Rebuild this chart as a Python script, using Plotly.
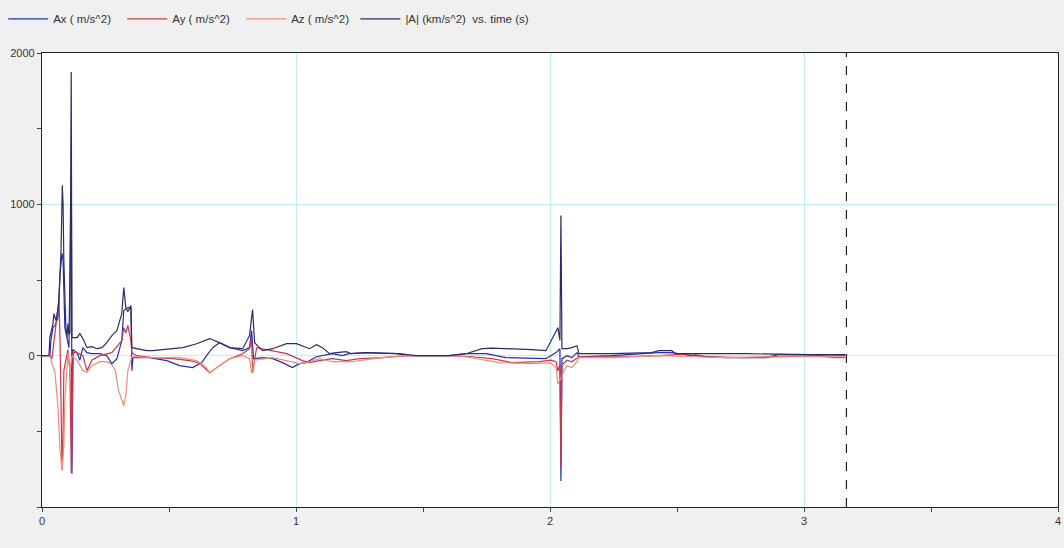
import plotly.graph_objects as go

# ---------------- data ----------------
ax_t = [0, 0.031, 0.035, 0.043, 0.051, 0.063, 0.071, 0.079, 0.083, 0.090, 0.098, 0.106,
        0.113, 0.116, 0.118, 0.122, 0.138, 0.149, 0.161, 0.177, 0.196, 0.228, 0.255, 0.275,
        0.295, 0.314, 0.322, 0.338, 0.350, 0.354, 0.358, 0.424, 0.491, 0.542, 0.593, 0.629,
        0.648, 0.672, 0.699, 0.739, 0.790, 0.817, 0.825, 0.833, 0.868, 0.908, 0.947, 0.986,
        1.014, 1.040, 1.081, 1.143, 1.183, 1.210, 1.277, 1.395, 1.446, 1.603, 1.670, 1.749,
        1.827, 1.929, 1.984, 2.024, 2.039, 2.043, 2.047, 2.067, 2.086, 2.106, 2.114, 2.244,
        2.428, 2.479, 2.558, 2.692, 2.849, 2.900, 3.163]
ax_v = [0, 0, 100, 185, 200, 250, 543, 676, 629, 185, 119, 53,
        980, 900, -781, 40, 20, -30, 53, 20, 13, 13, 0, -53,
        -20, 99, 298, 318, 318, -99, -13, -13, -33, -66, -79, -46,
        0, 53, 86, 53, 33, 53, 166, -20, -13, -20, -46, -79,
        -53, -46, -7, 13, 0, 13, 20, 13, 0, 0, 13, 13,
        -13, -20, -20, 20, 46, -828, -20, 0, -13, 20, -7, 0,
        20, 20, 0, -13, -13, 7, 7]

ay_t = [0, 0.031, 0.039, 0.047, 0.055, 0.063, 0.067, 0.071, 0.075, 0.079, 0.083, 0.086,
        0.094, 0.102, 0.110, 0.115, 0.118, 0.122, 0.138, 0.161, 0.177, 0.196, 0.228, 0.275,
        0.314, 0.322, 0.330, 0.338, 0.350, 0.354, 0.373, 0.436, 0.515, 0.582, 0.621, 0.660,
        0.688, 0.739, 0.790, 0.817, 0.825, 0.829, 0.845, 0.908, 0.963, 1.026, 1.053, 1.092,
        1.143, 1.198, 1.250, 1.340, 1.446, 1.603, 1.694, 1.772, 1.851, 1.957, 2.003, 2.024,
        2.031, 2.039, 2.043, 2.047, 2.067, 2.086, 2.106, 2.114, 2.299, 2.428, 2.558, 2.613,
        2.770, 3.057, 3.120, 3.163]
ay_v = [0, 0, -20, 100, 185, 300, 370, 100, -500, -748, -500, -100,
        -30, 40, -100, -775, -600, 20, 20, 0, -99, -30, 0, 20,
        100, 185, 150, 200, 100, 20, 0, -13, -20, -33, -50, -113,
        -79, -20, 13, 46, 113, -113, 53, 33, 13, -33, -46, -33,
        -20, -33, -20, -13, 0, 0, -7, -20, -46, -40, -30, -40,
        -100, -60, -742, -60, -30, -40, -13, -7, -7, 0, 13, -7,
        -13, 0, -13, -13]

az_t = [0, 0.031, 0.039, 0.051, 0.063, 0.071, 0.079, 0.086, 0.090, 0.098, 0.102, 0.110,
        0.118, 0.138, 0.161, 0.177, 0.196, 0.228, 0.255, 0.275, 0.289, 0.301, 0.322, 0.330,
        0.338, 0.354, 0.424, 0.542, 0.609, 0.648, 0.660, 0.688, 0.739, 0.790, 0.817, 0.825,
        0.837, 0.908, 0.986, 1.014, 1.053, 1.092, 1.143, 1.218, 1.277, 1.356, 1.446, 1.603,
        1.670, 1.749, 1.800, 1.929, 2.000, 2.024, 2.031, 2.043, 2.055, 2.067, 2.086, 2.106,
        2.114, 2.244, 2.428, 2.558, 2.692, 2.849, 3.163]
az_v = [0, 0, -50, -110, -340, -629, -762, -600, -300, -40, 20, -99,
        0, -30, -99, -110, -66, -40, -40, -60, -100, -230, -331, -260,
        -99, -7, -13, -13, -33, -79, -113, -79, -20, 0, -20, -113,
        -30, -13, -46, -53, -40, -20, -40, -40, -26, -10, 0, 0,
        -7, -33, -46, -53, -46, -79, -185, -150, -99, -66, -79, -40,
        -13, -13, 0, -7, -13, -7, -7]

amag_t = [0, 0.0275, 0.031, 0.043, 0.047, 0.055, 0.063, 0.067, 0.075, 0.080, 0.083, 0.086,
          0.094, 0.098, 0.102, 0.106, 0.110, 0.115, 0.118, 0.138, 0.149, 0.161, 0.177, 0.196,
          0.216, 0.236, 0.255, 0.275, 0.295, 0.314, 0.322, 0.330, 0.338, 0.350, 0.354, 0.373,
          0.413, 0.436, 0.475, 0.554, 0.609, 0.660, 0.699, 0.739, 0.790, 0.817, 0.829, 0.837,
          0.868, 0.908, 0.963, 1.002, 1.053, 1.081, 1.104, 1.132, 1.159, 1.198, 1.218, 1.277,
          1.356, 1.407, 1.473, 1.603, 1.670, 1.733, 1.772, 1.851, 1.929, 1.984, 2.024, 2.031,
          2.039, 2.043, 2.047, 2.067, 2.086, 2.106, 2.114, 2.244, 2.401, 2.428, 2.479, 2.495,
          2.770, 3.163]
amag_v = [0, 0, 119, 212, 278, 232, 311, 380, 700, 1126, 1000, 629,
          185, 119, 212, 140, 150, 1874, 119, 119, 146, 113, 53, 60,
          46, 53, 86, 132, 166, 278, 450, 318, 290, 331, 53, 46,
          33, 33, 40, 53, 79, 113, 86, 53, 46, 132, 305, 86,
          33, 46, 79, 79, 46, 73, 53, 13, 20, 26, 13, 20,
          15, 13, 0, 0, 13, 46, 50, 46, 40, 33, 166, 185,
          100, 927, 46, 46, 53, 66, 13, 13, 20, 33, 33, 13,
          13, 3]

series_names = ["Ax ( m/s^2)", "Ay ( m/s^2)", "Az ( m/s^2)", "|A| (km/s^2)  vs. time (s)"]
series_colors = ["#2a2ab0", "#c8384c", "#f08c78", "#2c2c62"]
cursor_time = 3.167

x_ticks = [0, 1, 2, 3, 4]
y_ticks = [0, 1000, 2000]
y_tick_text = ["0", "1000", "2000"]

# ---------------- figure ----------------
fig = go.Figure()
legend_ids = ["legend", "legend", "legend", "legend2"]
for (tt, vv), name, col, lg in zip([(ax_t, ax_v), (ay_t, ay_v), (az_t, az_v), (amag_t, amag_v)],
                                   series_names, series_colors, legend_ids):
    fig.add_trace(go.Scatter(x=tt, y=vv, mode="lines", name=name, legend=lg,
                             line=dict(color=col, width=1.2)))

fig.add_vline(x=cursor_time, line=dict(color="#222222", width=1.2, dash="dash"))

grid_col = "#bfeef5"
legend_common = dict(orientation="h", xanchor="left", xref="container",
                     y=0.992, yanchor="top", yref="container", bgcolor="rgba(0,0,0,0)",
                     font=dict(size=11.5, color="#333333"), tracegroupgap=0,
                     itemwidth=40)
fig.update_layout(
    width=1064, height=548,
    paper_bgcolor="#f0f0f0", plot_bgcolor="#ffffff",
    margin=dict(l=42, r=6, t=53, b=41, autoexpand=False),
    font=dict(family="Liberation Sans, Arial, sans-serif", size=11, color="#333333"),
    showlegend=True,
    legend=dict(x=0.003, entrywidth=64, entrywidthmode="pixels", **legend_common),
    legend2=dict(x=0.334, **legend_common),
)
fig.update_xaxes(range=[0, 4], tickvals=x_ticks, showgrid=True, gridcolor=grid_col,
                 gridwidth=1, zeroline=False, showline=True, linecolor="#222222",
                 linewidth=1.2, mirror=True, ticks="outside", ticklen=4,
                 tickcolor="#444444", automargin=False,
                 minor=dict(dtick=0.5, ticks="outside", ticklen=4, tickcolor="#444444",
                            showgrid=False))
fig.update_yaxes(range=[-1000, 2000], tickvals=y_ticks, ticktext=y_tick_text,
                 showgrid=True, gridcolor=grid_col, gridwidth=1, zeroline=False,
                 showline=True, linecolor="#222222", linewidth=1.2, mirror=True,
                 ticks="outside", ticklen=4, tickcolor="#444444", automargin=False,
                 minor=dict(dtick=500, ticks="outside", ticklen=4, tickcolor="#444444",
                            showgrid=False))

fig.write_html("out.html", config={"displayModeBar": False},
               post_script="document.body.style.margin='0';"
                           "document.body.style.background='#f0f0f0';")
